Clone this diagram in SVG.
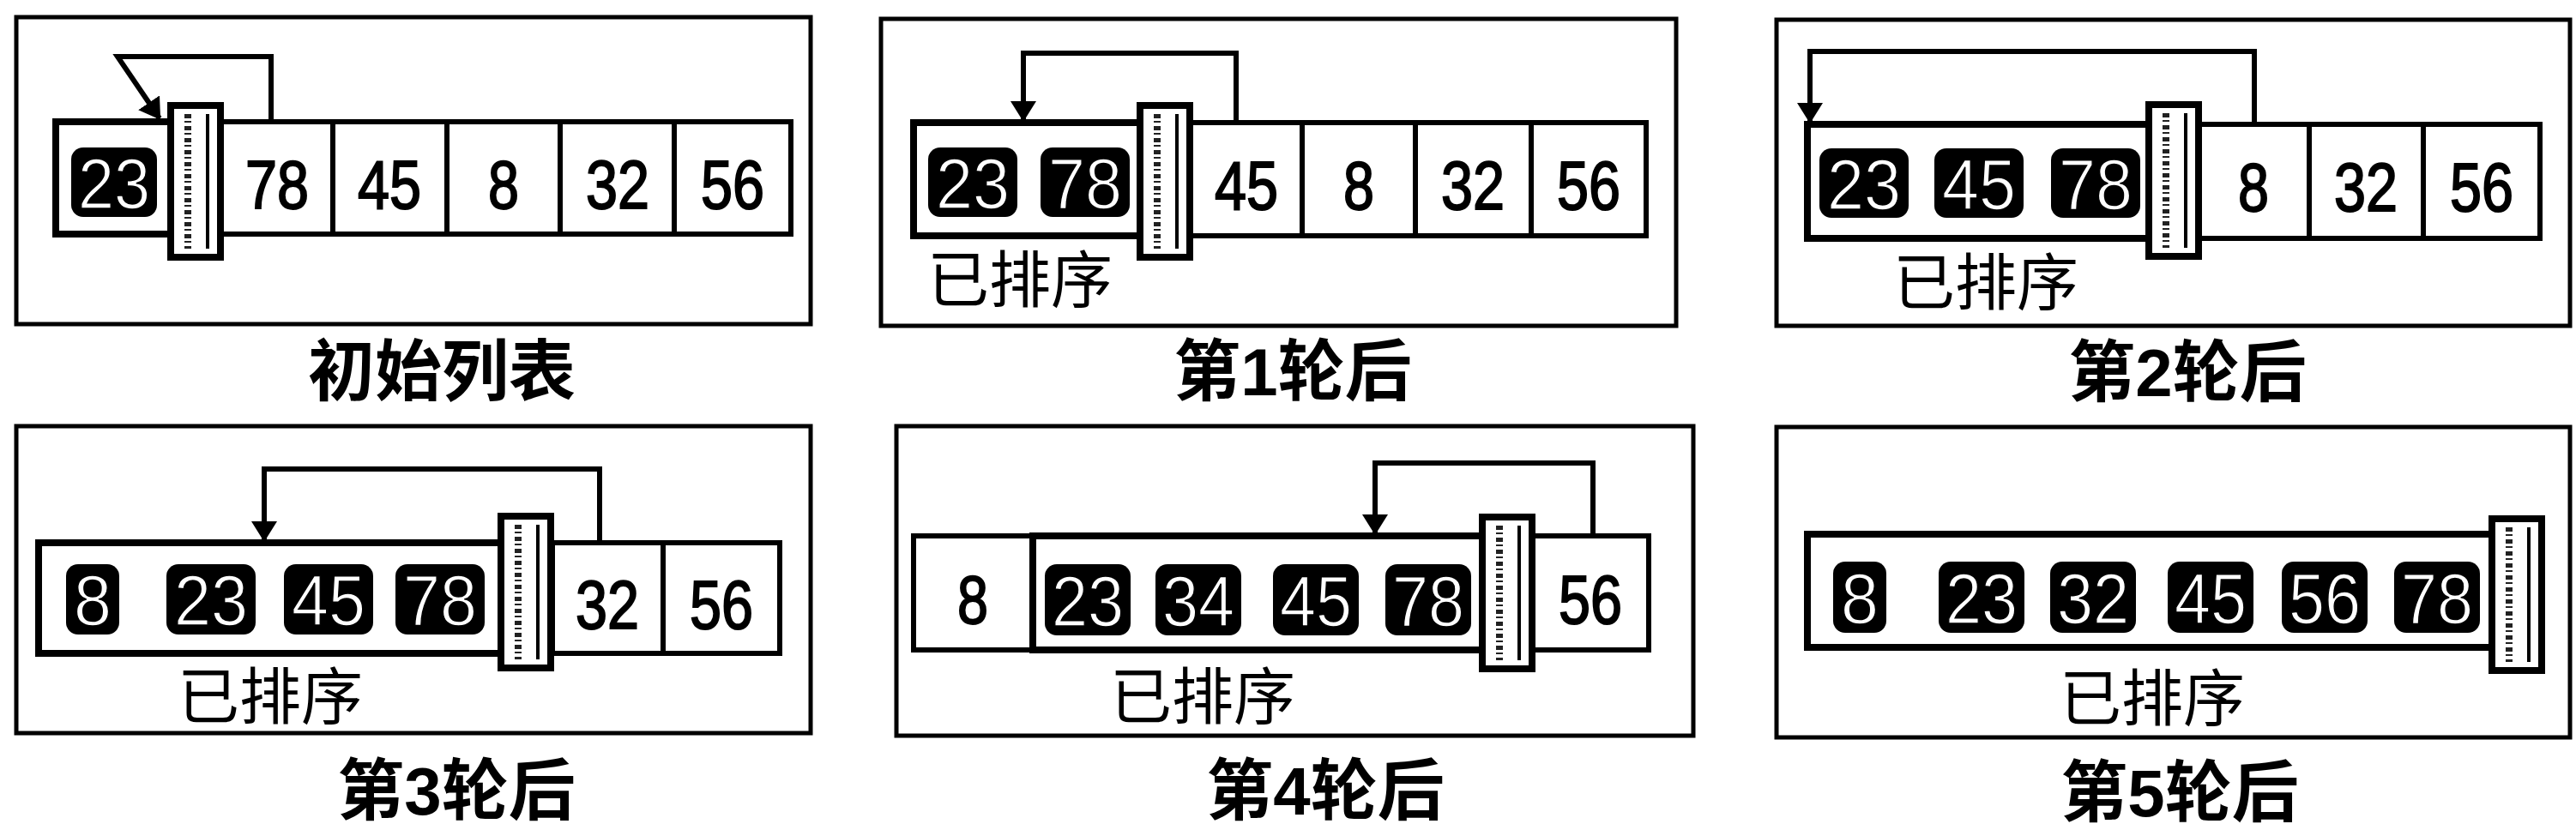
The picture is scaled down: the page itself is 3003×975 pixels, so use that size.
<svg xmlns="http://www.w3.org/2000/svg" xmlns:xlink="http://www.w3.org/1999/xlink" width="3003" height="975" viewBox="0 0 3003 975">
<style>
.bg{fill:#fff}
.frame{fill:none;stroke:#000;stroke-width:5}
.cell{fill:#fff;stroke:#000;stroke-width:6}
.sorted{fill:#fff;stroke:#000;stroke-width:8}
.num{font-family:"Liberation Sans",Arial,sans-serif;font-size:80px;text-anchor:middle;fill:#000;stroke:#000;stroke-width:2}
.hl{fill:#000}
.hlt{font-family:"Liberation Sans",Arial,sans-serif;font-size:84px;text-anchor:middle;fill:#fff;stroke:#000;stroke-width:1.5}
.cap{font-family:"Liberation Sans","Noto Sans CJK SC",sans-serif;font-size:78px;font-weight:bold;text-anchor:middle;fill:#000}
.tag{font-family:"Liberation Sans","Noto Sans CJK SC",sans-serif;font-size:72px;fill:#000}
.arrow{fill:none;stroke:#000;stroke-width:6;marker-end:url(#ah)}
</style>
<defs>
<marker id="ah" viewBox="0 0 24 30" refX="22" refY="15" markerWidth="24" markerHeight="30" markerUnits="userSpaceOnUse" orient="auto">
<path d="M0,0 L24,15 L0,30 z" fill="#000"/>
</marker>
<g id="bar">
<rect x="0" y="0" width="58" height="177" fill="#fff" stroke="#000" stroke-width="8"/>
<line x1="20" y1="10" x2="20" y2="167" stroke="#222" stroke-width="8" stroke-dasharray="5 3 2 4"/>
<line x1="43" y1="10" x2="43" y2="167" stroke="#000" stroke-width="4"/>
</g>
</defs>
<rect class="bg" x="0" y="0" width="3003" height="975"/>

<g id="panel-initial">
<rect class="frame" x="19" y="20" width="926" height="358"/>
<g id="p1-sorted"><rect class="sorted" x="65" y="142" width="138" height="131"/>
<rect class="hl" x="83" y="172" width="100" height="81" rx="14"/><text class="hlt" x="133" y="243" textLength="84" lengthAdjust="spacingAndGlyphs">23</text></g>
<g id="p1-c78"><rect class="cell" x="257" y="142" width="131" height="131"/><text class="num" x="323" y="243" textLength="74" lengthAdjust="spacingAndGlyphs">78</text></g>
<g id="p1-c45"><rect class="cell" x="388" y="142" width="133" height="131"/><text class="num" x="454" y="243" textLength="74" lengthAdjust="spacingAndGlyphs">45</text></g>
<g id="p1-c8"><rect class="cell" x="521" y="142" width="132" height="131"/><text class="num" x="587" y="243" textLength="36" lengthAdjust="spacingAndGlyphs">8</text></g>
<g id="p1-c32"><rect class="cell" x="653" y="142" width="133" height="131"/><text class="num" x="720" y="243" textLength="74" lengthAdjust="spacingAndGlyphs">32</text></g>
<g id="p1-c56"><rect class="cell" x="786" y="142" width="136" height="131"/><text class="num" x="854" y="243" textLength="74" lengthAdjust="spacingAndGlyphs">56</text></g>
<use id="p1-bar" xlink:href="#bar" href="#bar" x="199" y="123"/>
<text class="cap" x="515" y="461">初始列表</text>
</g>

<g id="panel-round1">
<rect class="frame" x="1027" y="22" width="927" height="358"/>
<g id="p2-sorted"><rect class="sorted" x="1065" y="143" width="270" height="132"/>
<rect class="hl" x="1082" y="172" width="104" height="81" rx="14"/><text class="hlt" x="1134" y="243" textLength="86" lengthAdjust="spacingAndGlyphs">23</text>
<rect class="hl" x="1213" y="172" width="104" height="81" rx="14"/><text class="hlt" x="1265" y="243" textLength="86" lengthAdjust="spacingAndGlyphs">78</text></g>
<g id="p2-c45"><rect class="cell" x="1388" y="143" width="130" height="132"/><text class="num" x="1453" y="244" textLength="74" lengthAdjust="spacingAndGlyphs">45</text></g>
<g id="p2-c8"><rect class="cell" x="1518" y="143" width="132" height="132"/><text class="num" x="1584" y="244" textLength="36" lengthAdjust="spacingAndGlyphs">8</text></g>
<g id="p2-c32"><rect class="cell" x="1650" y="143" width="135" height="132"/><text class="num" x="1717" y="244" textLength="74" lengthAdjust="spacingAndGlyphs">32</text></g>
<g id="p2-c56"><rect class="cell" x="1785" y="143" width="134" height="132"/><text class="num" x="1852" y="244" textLength="74" lengthAdjust="spacingAndGlyphs">56</text></g>
<use id="p2-bar" xlink:href="#bar" href="#bar" x="1329" y="123"/>
<text class="tag" x="1081" y="352">已排序</text>
<text class="cap" x="1507" y="461">第1轮后</text>
</g>

<g id="panel-round2">
<rect class="frame" x="2071" y="23" width="925" height="357"/>
<g id="p3-sorted"><rect class="sorted" x="2107" y="145" width="405" height="133"/>
<rect class="hl" x="2121" y="173" width="104" height="81" rx="14"/><text class="hlt" x="2173" y="244" textLength="86" lengthAdjust="spacingAndGlyphs">23</text>
<rect class="hl" x="2255" y="173" width="104" height="81" rx="14"/><text class="hlt" x="2307" y="244" textLength="86" lengthAdjust="spacingAndGlyphs">45</text>
<rect class="hl" x="2391" y="173" width="104" height="81" rx="14"/><text class="hlt" x="2443" y="244" textLength="86" lengthAdjust="spacingAndGlyphs">78</text></g>
<g id="p3-c8"><rect class="cell" x="2563" y="145" width="129" height="133"/><text class="num" x="2627" y="246" textLength="36" lengthAdjust="spacingAndGlyphs">8</text></g>
<g id="p3-c32"><rect class="cell" x="2692" y="145" width="133" height="133"/><text class="num" x="2758" y="246" textLength="74" lengthAdjust="spacingAndGlyphs">32</text></g>
<g id="p3-c56"><rect class="cell" x="2825" y="145" width="136" height="133"/><text class="num" x="2893" y="246" textLength="74" lengthAdjust="spacingAndGlyphs">56</text></g>
<use id="p3-bar" xlink:href="#bar" href="#bar" x="2505" y="122"/>
<text class="tag" x="2207" y="355">已排序</text>
<text class="cap" x="2550" y="462">第2轮后</text>
</g>

<g id="panel-round3">
<rect class="frame" x="19" y="497" width="926" height="358"/>
<g id="p4-sorted"><rect class="sorted" x="45" y="633" width="545" height="129"/>
<rect class="hl" x="77" y="658" width="62" height="82" rx="14"/><text class="hlt" x="108" y="729" textLength="44" lengthAdjust="spacingAndGlyphs">8</text>
<rect class="hl" x="194" y="658" width="104" height="82" rx="14"/><text class="hlt" x="246" y="729" textLength="86" lengthAdjust="spacingAndGlyphs">23</text>
<rect class="hl" x="331" y="658" width="104" height="82" rx="14"/><text class="hlt" x="383" y="729" textLength="86" lengthAdjust="spacingAndGlyphs">45</text>
<rect class="hl" x="461" y="658" width="104" height="82" rx="14"/><text class="hlt" x="513" y="729" textLength="86" lengthAdjust="spacingAndGlyphs">78</text></g>
<g id="p4-c32"><rect class="cell" x="644" y="633" width="129" height="129"/><text class="num" x="708" y="733" textLength="74" lengthAdjust="spacingAndGlyphs">32</text></g>
<g id="p4-c56"><rect class="cell" x="773" y="633" width="136" height="129"/><text class="num" x="841" y="733" textLength="74" lengthAdjust="spacingAndGlyphs">56</text></g>
<use id="p4-bar" xlink:href="#bar" href="#bar" x="584" y="602"/>
<text class="tag" x="207" y="838">已排序</text>
<text class="cap" x="532" y="950">第3轮后</text>
</g>

<g id="panel-round4">
<rect class="frame" x="1045" y="497" width="929" height="361"/>
<g id="p5-c8"><rect class="cell" x="1065" y="625" width="139" height="133"/><text class="num" x="1134" y="727" textLength="36" lengthAdjust="spacingAndGlyphs">8</text></g>
<g id="p5-sorted"><rect class="sorted" x="1204" y="625" width="531" height="133"/>
<rect class="hl" x="1218" y="658" width="100" height="83" rx="14"/><text class="hlt" x="1268" y="730" textLength="84" lengthAdjust="spacingAndGlyphs">23</text>
<rect class="hl" x="1347" y="658" width="100" height="83" rx="14"/><text class="hlt" x="1397" y="730" textLength="84" lengthAdjust="spacingAndGlyphs">34</text>
<rect class="hl" x="1484" y="658" width="100" height="83" rx="14"/><text class="hlt" x="1534" y="730" textLength="84" lengthAdjust="spacingAndGlyphs">45</text>
<rect class="hl" x="1615" y="658" width="100" height="83" rx="14"/><text class="hlt" x="1665" y="730" textLength="84" lengthAdjust="spacingAndGlyphs">78</text></g>
<g id="p5-c56"><rect class="cell" x="1786" y="625" width="136" height="133"/><text class="num" x="1854" y="727" textLength="74" lengthAdjust="spacingAndGlyphs">56</text></g>
<use id="p5-bar" xlink:href="#bar" href="#bar" x="1728" y="603"/>
<text class="tag" x="1294" y="838">已排序</text>
<text class="cap" x="1545" y="950">第4轮后</text>
</g>

<g id="panel-round5">
<rect class="frame" x="2071" y="498" width="925" height="362"/>
<g id="p6-sorted"><rect class="sorted" x="2107" y="623" width="803" height="132"/>
<rect class="hl" x="2137" y="655" width="62" height="83" rx="14"/><text class="hlt" x="2168" y="727" textLength="44" lengthAdjust="spacingAndGlyphs">8</text>
<rect class="hl" x="2260" y="655" width="100" height="83" rx="14"/><text class="hlt" x="2310" y="727" textLength="84" lengthAdjust="spacingAndGlyphs">23</text>
<rect class="hl" x="2390" y="655" width="100" height="83" rx="14"/><text class="hlt" x="2440" y="727" textLength="84" lengthAdjust="spacingAndGlyphs">32</text>
<rect class="hl" x="2527" y="655" width="100" height="83" rx="14"/><text class="hlt" x="2577" y="727" textLength="84" lengthAdjust="spacingAndGlyphs">45</text>
<rect class="hl" x="2660" y="655" width="100" height="83" rx="14"/><text class="hlt" x="2710" y="727" textLength="84" lengthAdjust="spacingAndGlyphs">56</text>
<rect class="hl" x="2791" y="655" width="100" height="83" rx="14"/><text class="hlt" x="2841" y="727" textLength="84" lengthAdjust="spacingAndGlyphs">78</text></g>
<use id="p6-bar" xlink:href="#bar" href="#bar" x="2905" y="605"/>
<text class="tag" x="2401" y="840">已排序</text>
<text class="cap" x="2541" y="952">第5轮后</text>
</g>

<g id="connectors">
<path class="arrow" d="M316 142 V66 H137 L186 138"/>
<path class="arrow" d="M1441 143 V62 H1193 V140"/>
<path class="arrow" d="M2628 145 V60 H2110 V142"/>
<path class="arrow" d="M699 633 V547 H308 V630"/>
<path class="arrow" d="M1857 625 V540 H1603 V622"/>
</g>
</svg>
